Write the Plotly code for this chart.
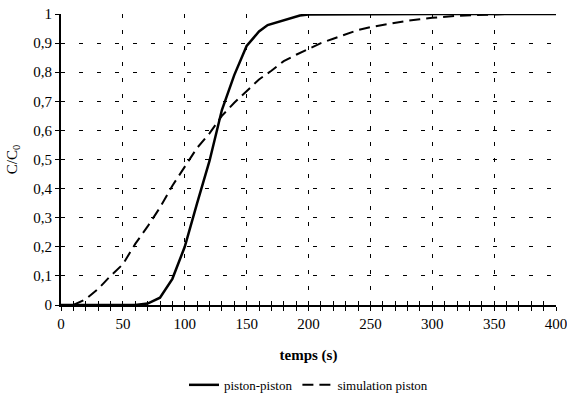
import plotly.graph_objects as go

# piston-piston (solid)
t_pp = [0, 10, 20, 30, 40, 50, 60, 70, 80, 90, 100, 110, 120, 130, 140, 150, 160, 167,
        180, 193, 200, 250, 300, 350, 400]
c_pp = [0, 0, 0, 0, 0, 0, 0, 0.005, 0.025, 0.09, 0.2, 0.35, 0.495, 0.67, 0.79, 0.89,
        0.94, 0.962, 0.978, 0.995, 0.998, 1.0, 1.0, 1.0, 1.0]

# simulation piston (dashed)
t_sim = [10, 20, 30, 40, 50, 60, 70, 80, 90, 100, 110, 120, 130, 140, 150, 160, 170,
         180, 190, 200, 210, 220, 230, 240, 250, 260, 270, 280, 290, 300, 320, 340, 360, 400]
c_sim = [0, 0.02, 0.055, 0.1, 0.14, 0.21, 0.27, 0.335, 0.41, 0.475, 0.54, 0.59, 0.65,
         0.695, 0.735, 0.775, 0.805, 0.838, 0.86, 0.88, 0.9, 0.915, 0.93, 0.945, 0.955,
         0.963, 0.97, 0.977, 0.982, 0.987, 0.994, 0.998, 1.0, 1.0]

y_ticks = [0, 0.1, 0.2, 0.3, 0.4, 0.5, 0.6, 0.7, 0.8, 0.9, 1]
y_labels = ["0", "0,1", "0,2", "0,3", "0,4", "0,5", "0,6", "0,7", "0,8", "0,9", "1"]
x_ticks = [0, 50, 100, 150, 200, 250, 300, 350, 400]

FONT = "Liberation Serif"

fig = go.Figure()
fig.add_trace(go.Scatter(x=t_pp, y=c_pp, mode="lines", name="piston-piston",
                         line=dict(color="black", width=2.5)))
fig.add_trace(go.Scatter(x=t_sim, y=c_sim, mode="lines", name="simulation piston",
                         line=dict(color="black", width=2, dash="11px,6px")))

fig.update_layout(
    width=567, height=406,
    margin=dict(l=61, r=11, t=14, b=101),
    paper_bgcolor="white", plot_bgcolor="white",
    font=dict(family=FONT, color="black", size=15),
    showlegend=True,
    legend=dict(orientation="h", x=0.5, xanchor="center",
                yref="container", y=0.052, yanchor="middle",
                font=dict(size=13, family=FONT),
                bgcolor="rgba(0,0,0,0)"),
    xaxis=dict(range=[0, 400], tickvals=x_ticks, showgrid=True, gridcolor="black",
               gridwidth=1, griddash="4px,12px", zeroline=False,
               showline=True, linecolor="black", linewidth=1.5,
               ticks="outside", ticklen=4, tickcolor="black", automargin=False,
               ticklabeloverflow="allow",
               minor=dict(dtick=10, ticks="outside", ticklen=4, tickcolor="black", showgrid=False),
               title=dict(text="<b>temps (s)</b>", font=dict(size=15, family=FONT), standoff=19),
               fixedrange=True),
    yaxis=dict(range=[0, 1], tickvals=y_ticks, ticktext=y_labels, showgrid=True,
               gridcolor="black", gridwidth=1, griddash="4px,14px", zeroline=False,
               showline=True, linecolor="black", linewidth=2, automargin=False,
               ticklabeloverflow="allow",
               ticks="outside", ticklen=4, tickcolor="black",
               title=dict(text="C/C<sub>0</sub>", font=dict(size=15, family=FONT), standoff=12),
               fixedrange=True),
    xaxis2=dict(overlaying="x", range=[0, 400], side="bottom", anchor="y", automargin=False,
                showticklabels=False, showgrid=False, zeroline=False, showline=False,
                ticks="inside", ticklen=4, tickcolor="black", tickvals=x_ticks,
                minor=dict(dtick=10, ticks="inside", ticklen=4, tickcolor="black"),
                fixedrange=True),
    yaxis2=dict(overlaying="y", range=[0, 1], side="left", anchor="x", automargin=False,
                showticklabels=False, showgrid=False, zeroline=False, showline=False,
                ticks="inside", ticklen=4, tickcolor="black", tickvals=y_ticks,
                fixedrange=True),
)
# invisible trace to activate the inner-tick axes
fig.add_trace(go.Scatter(x=[0], y=[0], xaxis="x2", yaxis="y2", mode="markers",
                         marker=dict(opacity=0), showlegend=False, hoverinfo="skip"))

fig.write_html("out.html", config={"displayModeBar": False},
               post_script="document.body.style.margin='0';document.body.style.overflow='hidden';")
